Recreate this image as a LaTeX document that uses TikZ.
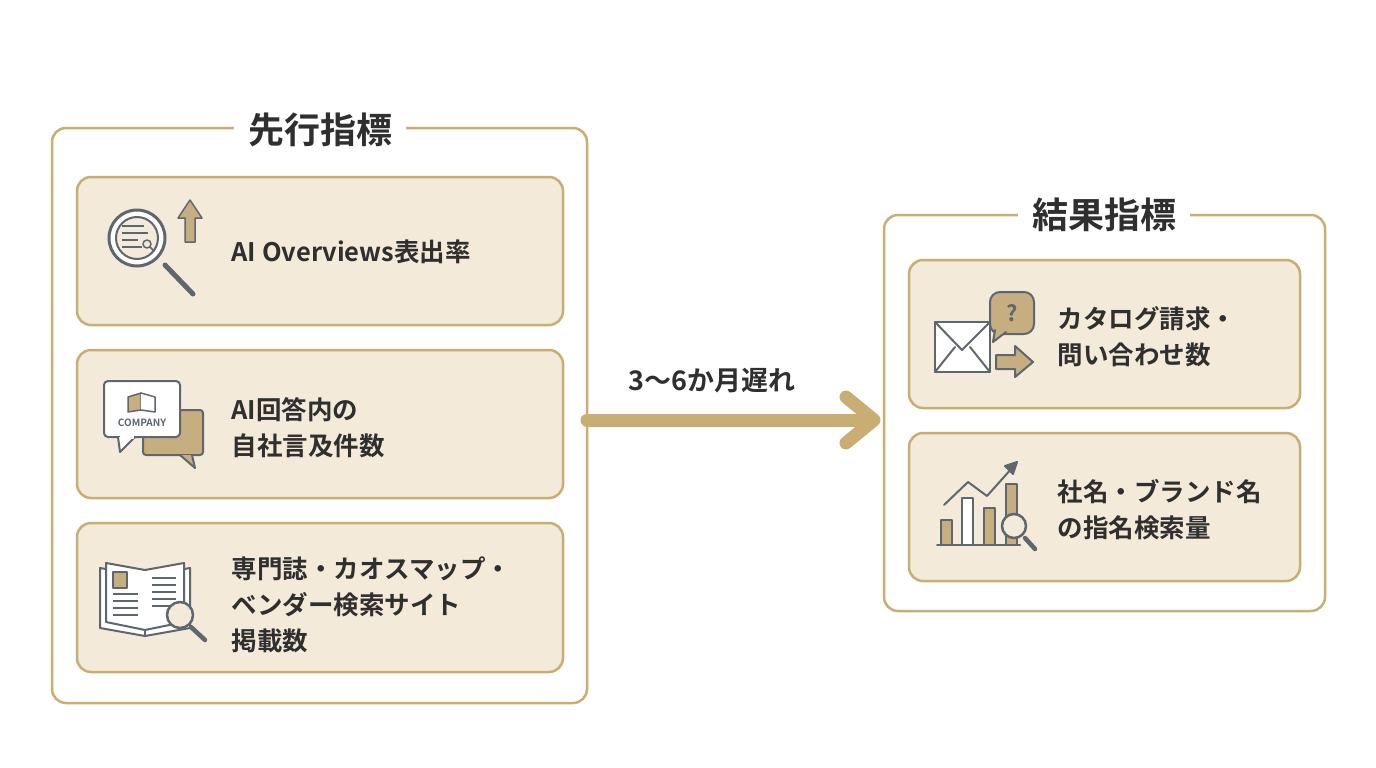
\documentclass[tikz,border=0pt]{standalone}
\usepackage{fontspec}
\setmainfont{Noto Sans CJK JP}[BoldFont={Noto Sans CJK JP Bold}]
\usetikzlibrary{arrows.meta}
\definecolor{tanb}{HTML}{C9AE74}
\definecolor{tanf}{HTML}{F3EADA}
\definecolor{txt}{HTML}{2F2F2F}
\definecolor{ic}{HTML}{5E6670}
\definecolor{icf}{HTML}{C7AE80}
\begin{document}
\begin{tikzpicture}[x=1pt,y=-1pt,
 cont/.style={draw=tanb,line width=2.5pt,rounded corners=14pt,fill=white},
 box/.style={draw=tanb,line width=2.5pt,rounded corners=14pt,fill=tanf},
 ttl/.style={fill=white,inner xsep=14pt,text=txt,font=\fontsize{36}{42}\selectfont\bfseries},
 lbl/.style={anchor=west,align=left,text=txt,font=\fontsize{25.5}{36}\selectfont\bfseries},
 icl/.style={draw=ic,line width=2pt,line cap=round,line join=round}]
\useasboundingbox (0,0) rectangle (1376,768);
\fill[white] (0,0) rectangle (1376,768);
% containers
\draw[cont] (52,128) rectangle (587,703);
\node[ttl] (t1) at (320,130) {先行指標};
\draw[cont] (884,215) rectangle (1325,611);
\node[ttl] (t2) at (1104,215) {結果指標};
% boxes
\draw[box] (77,177) rectangle (563,325);
\draw[box] (77,350) rectangle (563,498);
\draw[box] (77,523) rectangle (563,672);
\draw[box] (909,260) rectangle (1300,408);
\draw[box] (909,433) rectangle (1300,581);
% labels
\node[lbl] (l1) at (228,252) {AI Overviews表出率};
\node[lbl] (l2) at (228,428) {AI回答内の\\自社言及件数};
\node[lbl] (l3) at (228,605) {専門誌・カオスマップ・\\ベンダー検索サイト\\掲載数};
\node[lbl] (r1) at (1054,337) {カタログ請求・\\問い合わせ数};
\node[lbl] (r2) at (1054,510) {社名・ブランド名\\の指名検索量};
% arrow
\coordinate (a0) at (587,420);
\coordinate (a1) at (872,420);
\draw[tanb,line width=13pt,line cap=round] (a0) -- (a1);
\draw[tanb,line width=13pt,line cap=round,line join=round] (846,397) -- (874,420) -- (846,443);
\node[text=txt,font=\fontsize{27}{30}\selectfont\bfseries] (al) at (712,381) {3〜6か月遅れ};
% icon1 magnifier
\draw[icl,line width=5pt] (165,265) -- (193,294);
\draw[icl,fill=white,line width=3pt] (137,238) circle (28);
\draw[icl,fill=tanf] (137,238) circle (21);
\foreach \yy/\w in {226/22,233/26,240/16,247/20} \draw[draw=ic,line width=1.5pt] (122,\yy) -- ++(\w,0);
\draw[icl,line width=1.5pt] (147,244) circle (4) (150,247) -- (154,251);
\draw[icl,fill=icf,line width=1.5pt] (185,242) -- (185,218) -- (178,218) -- (190,200) -- (202,218) -- (195,218) -- (195,242) -- cycle;
% icon2 bubbles
\draw[icl,fill=icf,rounded corners=3pt] (143,410) rectangle (203,455);
\draw[icl,fill=icf] (180,455) -- (195,468) -- (192,455);
\draw[icl,fill=white,rounded corners=4pt] (104,381) rectangle (180,437);
\draw[icl,fill=white] (118,437) -- (120,452) -- (135,437);
\draw[draw=none,fill=white] (119.5,435) rectangle (133.5,438.5);
\draw[icl,fill=icf,line width=1.5pt] (128,397) -- (141,393) -- (141,410) -- (128,412) -- cycle;
\draw[icl,fill=white,line width=1.5pt] (141,393) -- (155,397) -- (155,412) -- (141,410);
\node[text=ic,font=\fontsize{10}{12}\selectfont\bfseries] (co) at (142,423) {COMPANY};
% icon3 book
\draw[icl,fill=white] (100,568) -- (100,628) -- (145,636) -- (190,628) -- (190,568) -- (145,576) -- cycle;
\draw[icl] (145,576) -- (145,636);
\draw[icl,fill=white] (106,563) -- (106,622) -- (145,630) -- (184,622) -- (184,563) -- (145,570) -- cycle;
\draw[icl,fill=icf,line width=1.5pt] (113,572) rectangle (127,588);
\foreach \yy in {594,601,608,615} \draw[ic,line width=1.5pt] (113,\yy) -- (138,\yy);
\foreach \yy in {578,585,592,599,606} \draw[ic,line width=1.5pt] (152,\yy) -- (176,\yy);
\draw[icl,line width=4.5pt] (191,627) -- (205,640);
\draw[icl,fill=tanf,line width=2.5pt] (180,615) circle (13);
% right icon1 envelope
\draw[icl,fill=white] (935,322) rectangle (990,372);
\draw[icl] (935,322) -- (962,350) -- (990,322) (935,372) -- (955,347) (990,372) -- (970,347);
\draw[icl,fill=icf,rounded corners=10pt] (990,292) rectangle (1034,334);
\draw[icl,fill=icf] (995,330) -- (993,342) -- (1006,332);
\node[text=ic,font=\fontsize{22}{24}\selectfont\bfseries] (q) at (1012,313) {?};
\draw[icl,fill=icf] (996,355) -- (1015,355) -- (1015,346) -- (1033,362) -- (1015,377) -- (1015,369) -- (996,369) -- cycle;
% right icon2 chart
\draw[icl] (937,545) -- (1020,545);
\draw[icl,fill=icf] (941,520) rectangle (952,545);
\draw[icl,fill=white] (962,498) rectangle (973,545);
\draw[icl,fill=icf] (984,508) rectangle (995,545);
\draw[icl,fill=icf] (1006,484) rectangle (1017,545);
\draw[icl] (944,505) -- (968,482) -- (987,496) -- (1012,468);
\draw[icl,fill=ic] (1017,462) -- (1005,466) -- (1013,474) -- cycle;
\draw[icl,line width=4.5pt] (1025,538) -- (1035,549);
\draw[icl,fill=tanf,line width=2.5pt] (1014,526) circle (12);
\end{tikzpicture}
\end{document}
